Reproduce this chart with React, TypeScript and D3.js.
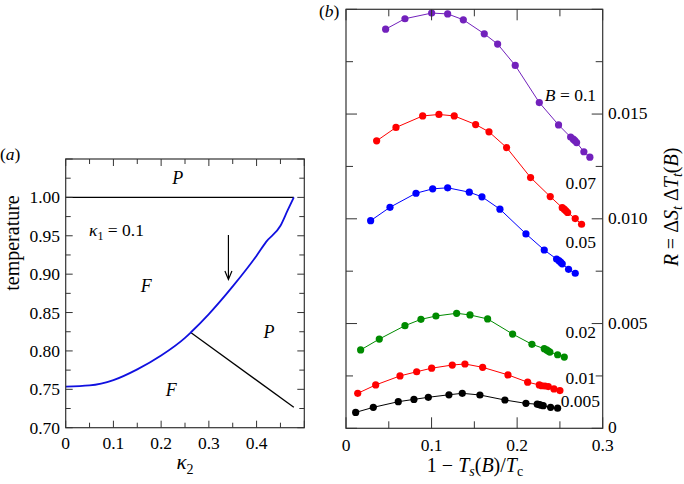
import * as d3 from "d3";

// panel (a): phase diagram
const kappaBlue = [0, 0.05, 0.1, 0.15, 0.2, 0.25, 0.262, 0.3, 0.35, 0.4, 0.42, 0.45, 0.465, 0.478];
const tempBlue = [0.7535, 0.755, 0.762, 0.776, 0.794, 0.817, 0.824, 0.848, 0.884, 0.924, 0.942, 0.963, 0.983, 1.0];
const kappaBlack = [0.262, 0.478];
const tempBlack = [0.824, 0.7266];
const kappaTop = [0, 0.478];
const tempTop = [1.0, 1.0];
const xTicksA = [0, 0.1, 0.2, 0.3, 0.4];
const yTicksA = [0.7, 0.75, 0.8, 0.85, 0.9, 0.95, 1.0];

// panel (b): R vs 1 - Ts/Tc for each field B
const seriesNames = ["0.1", "0.07", "0.05", "0.02", "0.01", "0.005"];
const seriesColors = ["#7221bc", "#ff0000", "#0000ff", "#008b00", "#ff0000", "#000000"];
const xs01 = [0.0463, 0.0689, 0.1001, 0.1188, 0.1371, 0.1616, 0.1772, 0.1978, 0.2259, 0.2484, 0.2625, 0.2656, 0.2675, 0.2695, 0.278, 0.285];
const ys01 = [0.01905, 0.01955, 0.01982, 0.01978, 0.0195, 0.01883, 0.01834, 0.01732, 0.01555, 0.01448, 0.0139, 0.0138, 0.01373, 0.01364, 0.0132, 0.01294];
const xs007 = [0.0358, 0.0584, 0.0896, 0.1086, 0.1265, 0.1515, 0.1671, 0.1877, 0.2157, 0.2387, 0.2527, 0.255, 0.257, 0.259, 0.2679, 0.2753];
const ys007 = [0.01372, 0.01436, 0.01491, 0.01498, 0.01491, 0.0145, 0.01415, 0.0134, 0.01197, 0.01106, 0.01053, 0.01046, 0.01038, 0.0103, 0.01001, 0.00974];
const xs005 = [0.0288, 0.0514, 0.0818, 0.1013, 0.1188, 0.1441, 0.1589, 0.1799, 0.2103, 0.2317, 0.2461, 0.2488, 0.2508, 0.2527, 0.2601, 0.2679];
const ys005 = [0.00991, 0.01055, 0.01122, 0.01143, 0.01148, 0.01127, 0.01105, 0.01046, 0.00928, 0.00851, 0.00808, 0.008, 0.00793, 0.00785, 0.00759, 0.0074];
const xs002 = [0.0171, 0.0389, 0.0689, 0.0876, 0.1051, 0.1293, 0.1449, 0.1655, 0.1947, 0.2173, 0.2317, 0.2345, 0.2364, 0.2383, 0.2473, 0.2551];
const ys002 = [0.00374, 0.00426, 0.0049, 0.0052, 0.00536, 0.00549, 0.00541, 0.00522, 0.0045, 0.00401, 0.0038, 0.00374, 0.00369, 0.00364, 0.00351, 0.0034];
const xs001 = [0.0137, 0.0347, 0.0631, 0.0826, 0.1001, 0.1242, 0.139, 0.1597, 0.1893, 0.2123, 0.2259, 0.2287, 0.2325, 0.2364, 0.243, 0.25];
const ys001 = [0.00167, 0.00207, 0.0025, 0.0027, 0.00287, 0.00302, 0.00307, 0.00291, 0.00255, 0.0022, 0.00207, 0.00203, 0.00202, 0.00199, 0.00188, 0.0018];
const xs0005 = [0.0113, 0.0319, 0.0611, 0.0794, 0.0962, 0.1203, 0.1359, 0.1565, 0.1857, 0.2103, 0.2235, 0.2259, 0.2275, 0.2305, 0.2391, 0.2473];
const ys0005 = [0.00076, 0.001, 0.00127, 0.00138, 0.00148, 0.0016, 0.00167, 0.00159, 0.00135, 0.00119, 0.00115, 0.00113, 0.00111, 0.00108, 0.001, 0.00096];
const seriesX = [xs01, xs007, xs005, xs002, xs001, xs0005];
const seriesY = [ys01, ys007, ys005, ys002, ys001, ys0005];
// y position (data units) where each series label sits
const labelY = [0.0159, 0.0117, 0.0089, 0.0046, 0.0024, 0.00129];
const xTicksB = [0, 0.1, 0.2, 0.3];
const yTicksB = [0, 0.005, 0.01, 0.015];
const yTickLabelsB = ["0", "0.005", "0.010", "0.015"];

const FONT = "Liberation Serif";
const AXIS = "#333";
const txt = { fontFamily: FONT };

export default function App() {
  // panel (a) scales
  const xa = d3.scaleLinear().domain([0, 0.5]).range([65.7, 304.3]);
  const ya = d3.scaleLinear().domain([0.7, 1.05]).range([427.7, 159]);
  // panel (b) scales
  const xb = d3.scaleLinear().domain([0, 0.3]).range([346, 602.7]);
  const yb = d3.scaleLinear().domain([0, 0.02]).range([428.3, 9.3]);

  const lineA = (ks: number[], ts: number[], curve = d3.curveLinear) =>
    d3.line<number>().x((_, i) => xa(ks[i])).y((_, i) => ya(ts[i])).curve(curve)(ks) || "";
  const lineB = (xs: number[], ys: number[]) =>
    d3.line<number>().x((_, i) => xb(xs[i])).y((_, i) => yb(ys[i]))(xs) || "";

  const [xa0, xa1] = xa.range();
  const [ya0, ya1] = ya.range();
  const [xb0, xb1] = xb.range();
  const [yb0, yb1] = yb.range();

  const xMinorA = d3.range(0, 0.5001, 0.05);
  const yMinorA = d3.range(0.7, 1.0501, 0.025);
  const xMinorB = d3.range(0, 0.3001, 0.05);
  const yMinorB = d3.range(0, 0.02001, 0.0025);

  const isMajor = (v: number, step: number) => Math.abs(v / step - Math.round(v / step)) < 1e-6;

  return (
    <svg
      width={684}
      height={484}
      style={{ position: "absolute", left: 0, top: 0, background: "#fff", fontFamily: FONT }}
    >
      {/* ---------- panel (a) ---------- */}
      <path d={lineA(kappaTop, tempTop)} fill="none" stroke="#000" strokeWidth={1.3} />
      <path d={lineA(kappaBlack, tempBlack)} fill="none" stroke="#000" strokeWidth={1.3} />
      <path d={lineA(kappaBlue, tempBlue, d3.curveMonotoneX)} fill="none" stroke="#1010e0" strokeWidth={1.8} />

      {/* arrow */}
      <line x1={xa(0.341)} x2={xa(0.341)} y1={ya(0.951)} y2={ya(0.895)} stroke="#000" strokeWidth={1.2} />
      <path
        d={`M${xa(0.341) - 3.5},${ya(0.904)} L${xa(0.341)},${ya(0.893)} L${xa(0.341) + 3.5},${ya(0.904)}`}
        fill="none"
        stroke="#000"
        strokeWidth={1.2}
      />

      <rect x={xa0} y={ya1} width={xa1 - xa0} height={ya0 - ya1} fill="none" stroke={AXIS} strokeWidth={1.2} />
      {xMinorA.map((v) => {
        const len = isMajor(v, 0.1) ? 7 : 5;
        return (
          <g key={`xa${v}`}>
            <line x1={xa(v)} x2={xa(v)} y1={ya0} y2={ya0 - len} stroke={AXIS} />
            <line x1={xa(v)} x2={xa(v)} y1={ya1} y2={ya1 + len} stroke={AXIS} />
          </g>
        );
      })}
      {yMinorA.map((v) => {
        const len = isMajor(v, 0.05) ? 7 : 5;
        return (
          <g key={`ya${v}`}>
            <line x1={xa0} x2={xa0 + len} y1={ya(v)} y2={ya(v)} stroke={AXIS} />
            <line x1={xa1} x2={xa1 - len} y1={ya(v)} y2={ya(v)} stroke={AXIS} />
          </g>
        );
      })}
      {xTicksA.map((v) => (
        <text key={`xta${v}`} style={txt} x={xa(v)} y={449} fontSize={17.5} textAnchor="middle">
          {v === 0 ? "0" : d3.format(".1f")(v)}
        </text>
      ))}
      {yTicksA.map((v) => (
        <text key={`yta${v}`} style={txt} x={60} y={ya(v) + 6} fontSize={17.5} textAnchor="end">
          {d3.format(".2f")(v)}
        </text>
      ))}
      <text style={txt} x={13} y={243} fontSize={20} textAnchor="middle" transform="rotate(-90 13 243) translate(0 6)">
        temperature
      </text>
      <text style={txt} x={xa(0.25)} y={469} fontSize={21} textAnchor="middle" fontStyle="italic">
        κ<tspan fontSize={14} fontStyle="normal" dy={5}>2</tspan>
      </text>
      <text style={txt} x={0} y={160} fontSize={17.5}>
        (<tspan fontStyle="italic">a</tspan>)
      </text>

      <text style={txt} x={xa(0.235)} y={ya(1.025) + 6} fontSize={18} fontStyle="italic" textAnchor="middle">P</text>
      <text style={txt} x={xa(0.169)} y={ya(0.884) + 6} fontSize={18} fontStyle="italic" textAnchor="middle">F</text>
      <text style={txt} x={xa(0.426)} y={ya(0.825) + 6} fontSize={18} fontStyle="italic" textAnchor="middle">P</text>
      <text style={txt} x={xa(0.221)} y={ya(0.749) + 6} fontSize={18} fontStyle="italic" textAnchor="middle">F</text>
      <text style={txt} x={89} y={236} fontSize={17.5}>
        <tspan fontStyle="italic">κ</tspan>
        <tspan fontSize={12} dy={4}>1</tspan>
        <tspan dy={-4}> = 0.1</tspan>
      </text>

      {/* ---------- panel (b) ---------- */}
      {seriesX.map((xs, s) => (
        <g key={`s${s}`}>
          <path d={lineB(xs, seriesY[s])} fill="none" stroke={seriesColors[s]} strokeWidth={1} />
          {xs.map((x, i) => (
            <circle key={i} cx={xb(x)} cy={yb(seriesY[s][i])} r={3.6} fill={seriesColors[s]} />
          ))}
        </g>
      ))}

      <rect x={xb0} y={yb1} width={xb1 - xb0} height={yb0 - yb1} fill="none" stroke={AXIS} strokeWidth={1.2} />
      {xMinorB.map((v) => {
        const len = isMajor(v, 0.1) ? 11 : 7;
        return (
          <g key={`xb${v}`}>
            <line x1={xb(v)} x2={xb(v)} y1={yb0} y2={yb0 - len} stroke={AXIS} />
            <line x1={xb(v)} x2={xb(v)} y1={yb1} y2={yb1 + len} stroke={AXIS} />
          </g>
        );
      })}
      {yMinorB.map((v) => {
        const len = isMajor(v, 0.005) ? 11 : 7;
        return (
          <g key={`yb${v}`}>
            <line x1={xb0} x2={xb0 + len} y1={yb(v)} y2={yb(v)} stroke={AXIS} />
            <line x1={xb1} x2={xb1 - len} y1={yb(v)} y2={yb(v)} stroke={AXIS} />
          </g>
        );
      })}
      {xTicksB.map((v) => (
        <text key={`xtb${v}`} style={txt} x={xb(v)} y={451} fontSize={17.5} textAnchor="middle">
          {v === 0 ? "0" : d3.format(".1f")(v)}
        </text>
      ))}
      {yTicksB.map((v, i) => (
        <text key={`ytb${v}`} style={txt} x={608} y={yb(v) + 5} fontSize={17.5}>
          {yTickLabelsB[i]}
        </text>
      ))}
      {seriesNames.map((n, s) => (
        <text key={`lb${s}`} style={txt} x={s === 5 ? 600 : 596} y={yb(labelY[s]) + 6} fontSize={17.5} textAnchor="end">
          {s === 0 ? (
            <>
              <tspan fontStyle="italic">B</tspan> = {n}
            </>
          ) : (
            n
          )}
        </text>
      ))}
      <text style={txt} x={475} y={472} fontSize={20} textAnchor="middle">
        1 − <tspan fontStyle="italic">T</tspan>
        <tspan fontSize={14} fontStyle="italic" dy={4}>s</tspan>
        <tspan dy={-4}>(</tspan>
        <tspan fontStyle="italic">B</tspan>
        <tspan>)/</tspan>
        <tspan fontStyle="italic">T</tspan>
        <tspan fontSize={14} dy={4}>c</tspan>
      </text>
      <text style={txt} x={673} y={207} fontSize={20} textAnchor="middle" transform="rotate(-90 673 207) translate(0 5)">
        <tspan fontStyle="italic">R</tspan> = Δ<tspan fontStyle="italic">S</tspan>
        <tspan fontSize={14} fontStyle="italic" dy={4}>t</tspan>
        <tspan dy={-4}> Δ</tspan>
        <tspan fontStyle="italic">T</tspan>
        <tspan fontSize={14} fontStyle="italic" dy={4}>t</tspan>
        <tspan dy={-4}>(</tspan>
        <tspan fontStyle="italic">B</tspan>
        <tspan>)</tspan>
      </text>
      <text style={txt} x={319} y={17} fontSize={17.5}>
        (<tspan fontStyle="italic">b</tspan>)
      </text>
    </svg>
  );
}
